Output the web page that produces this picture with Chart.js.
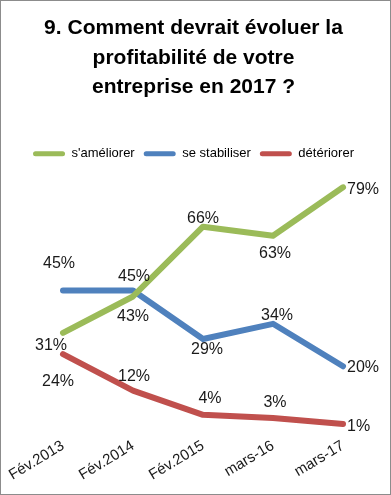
<!DOCTYPE html>
<html>
<head>
<meta charset="utf-8">
<script src="https://cdn.jsdelivr.net/npm/chart.js@4/dist/chart.umd.min.js"></script>
<style>
  html, body { margin: 0; padding: 0; background: #fff; }
  #box { width: 391px; height: 495px; box-sizing: border-box; border: 1px solid #8c8c8c; position: relative; }
</style>
</head>
<body>
<div id="box"><canvas id="graph"></canvas></div>
<script>
const categories = ['Fév.2013', 'Fév.2014', 'Fév.2015', 'mars-16', 'mars-17'];
const ameliorer = [31, 43, 66, 63, 79];
const stabiliser = [45, 45, 29, 34, 20];
const deteriorer = [24, 12, 4, 3, 1];
const seriesNames = ["s'améliorer", 'se stabiliser', 'détériorer'];

// label offsets from each point [dx, dy], 'R' = left aligned to the right of the point
const labelOffsets = [
  [[-12, 13], [0, 20], [0, -8], [2, 18], ['R', 2]],
  [[-4, -27], [1, -14], [4, 11], [4, -8], ['R', 1]],
  [[-5, 27], [1, -14], [7, -16], [2, -15], ['R', 3]]
];

const FONT = 'Liberation Sans';

const valueLabels = {
  id: 'valueLabels',
  beforeInit(chart) {
    // leave room under the legend like the original
    const legend = chart.legend;
    const fit = legend.fit;
    legend.fit = function () {
      fit.call(this);
      this.height += 14;
    };
  },
  afterDatasetsDraw(chart) {
    const ctx = chart.ctx;
    ctx.save();
    ctx.font = '16px ' + FONT;
    ctx.fillStyle = '#1a1a1a';
    ctx.textBaseline = 'middle';
    chart.data.datasets.forEach((ds, i) => {
      chart.getDatasetMeta(i).data.forEach((pt, j) => {
        const off = labelOffsets[i][j];
        if (off[0] === 'R') {
          ctx.textAlign = 'left';
          ctx.fillText(ds.data[j] + '%', pt.x + 4, pt.y + off[1]);
        } else {
          ctx.textAlign = 'center';
          ctx.fillText(ds.data[j] + '%', pt.x + off[0], pt.y + off[1]);
        }
      });
    });
    ctx.restore();
  }
};

const lineStyle = (color) => ({
  borderColor: color,
  backgroundColor: color,
  borderWidth: 6,
  pointRadius: 0,
  tension: 0,
  borderCapStyle: 'round',
  borderJoinStyle: 'round'
});

new Chart(document.getElementById('graph'), {
  type: 'line',
  data: {
    labels: categories,
    datasets: [
      Object.assign({ label: seriesNames[0], data: ameliorer }, lineStyle('#9bbb59')),
      Object.assign({ label: seriesNames[1], data: stabiliser }, lineStyle('#4f81bd')),
      Object.assign({ label: seriesNames[2], data: deteriorer }, lineStyle('#c0504d'))
    ]
  },
  options: {
    responsive: true,
    maintainAspectRatio: false,
    animation: false,
    layout: { padding: { left: 8, right: 12, top: 10, bottom: 0 } },
    scales: {
      x: {
        offset: true,
        grid: { display: false, drawTicks: false },
        border: { display: false },
        ticks: {
          color: '#1a1a1a',
          font: { family: FONT, size: 15 },
          minRotation: 31,
          maxRotation: 31,
          padding: 10
        },
        afterFit(scale) {
          scale.height = 67;
          scale.paddingLeft = 27;
          scale.paddingRight = 0;
        }
      },
      y: {
        display: false,
        min: 0,
        max: 80
      }
    },
    plugins: {
      title: {
        display: true,
        text: ['9. Comment devrait évoluer la', 'profitabilité de votre', 'entreprise en 2017 ?'],
        color: '#000',
        font: { family: FONT, size: 21, weight: 'bold', lineHeight: 1.4 },
        padding: { top: 3, bottom: 36 }
      },
      legend: {
        labels: {
          color: '#1a1a1a',
          font: { family: FONT, size: 13 },
          boxWidth: 32,
          boxHeight: 5,
          padding: 9,
          useBorderRadius: true,
          borderRadius: 2.5,
          generateLabels(chart) {
            return chart.data.datasets.map((ds, i) => ({
              text: ds.label,
              fillStyle: ds.borderColor,
              strokeStyle: ds.borderColor,
              lineWidth: 0,
              borderRadius: 2.5,
              datasetIndex: i
            }));
          }
        }
      },
      tooltip: { enabled: false }
    }
  },
  plugins: [valueLabels]
});
</script>
</body>
</html>
